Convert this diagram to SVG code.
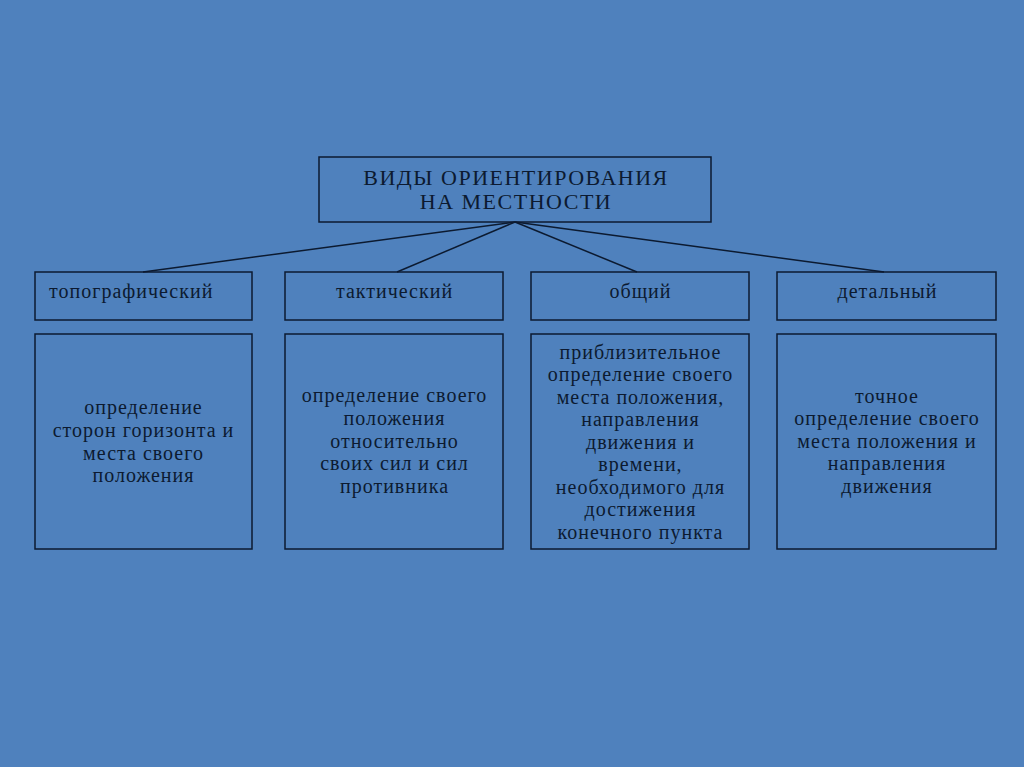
<svg xmlns="http://www.w3.org/2000/svg" width="1024" height="767" viewBox="0 0 1024 767">
<style>
.box{fill:none;stroke:#0c1a30;stroke-width:1.5}
.ln{stroke:#0c1a30;stroke-width:1.5;fill:none}
text{font-family:"Liberation Serif","Times New Roman",serif;fill:#0c1a30}
.t{font-size:20px;letter-spacing:1px;text-anchor:middle}
.h{font-size:22px;letter-spacing:1.5px;text-anchor:middle}
</style>
<rect width="1024" height="767" fill="#4f81bd"/>
<g id="connectors">
<line class="ln" x1="515" y1="222" x2="143" y2="272"/>
<line class="ln" x1="515" y1="222" x2="397" y2="272"/>
<line class="ln" x1="515" y1="222" x2="637" y2="272"/>
<line class="ln" x1="515" y1="222" x2="884" y2="272"/>
</g>
<g id="root">
<rect class="box" x="319" y="157" width="392" height="65"/>
<text class="h" x="516" y="184.5">ВИДЫ ОРИЕНТИРОВАНИЯ</text>
<text class="h" x="516" y="209">НА МЕСТНОСТИ</text>
</g>
<g id="topo">
<rect class="box" x="35" y="272" width="217" height="48"/>
<text class="t" x="49" y="297.5" style="text-anchor:start">топографический</text>
</g>
<g id="takt">
<rect class="box" x="285" y="272" width="218" height="48"/>
<text class="t" x="394.5" y="297.5">тактический</text>
</g>
<g id="obsh">
<rect class="box" x="531" y="272" width="218" height="48"/>
<text class="t" x="640.5" y="297.5">общий</text>
</g>
<g id="det">
<rect class="box" x="777" y="272" width="219" height="48"/>
<text class="t" x="887.5" y="297.5">детальный</text>
</g>
<g id="topo-desc">
<rect class="box" x="35" y="334" width="217" height="215"/>
<text class="t" x="143.5" y="414">определение</text>
<text class="t" x="143.5" y="437">сторон горизонта и</text>
<text class="t" x="143.5" y="459.5">места своего</text>
<text class="t" x="143.5" y="482">положения</text>
</g>
<g id="takt-desc">
<rect class="box" x="285" y="334" width="218" height="215"/>
<text class="t" x="394.5" y="402">определение своего</text>
<text class="t" x="394.5" y="425">положения</text>
<text class="t" x="394.5" y="447.5">относительно</text>
<text class="t" x="394.5" y="470">своих сил и сил</text>
<text class="t" x="394.5" y="493">противника</text>
</g>
<g id="obsh-desc">
<rect class="box" x="531" y="334" width="218" height="215"/>
<text class="t" x="640.5" y="358.5">приблизительное</text>
<text class="t" x="640.5" y="381">определение своего</text>
<text class="t" x="640.5" y="403.5">места положения,</text>
<text class="t" x="640.5" y="426">направления</text>
<text class="t" x="640.5" y="448.5">движения и</text>
<text class="t" x="640.5" y="471">времени,</text>
<text class="t" x="640.5" y="493.5">необходимого для</text>
<text class="t" x="640.5" y="516">достижения</text>
<text class="t" x="640.5" y="538.5">конечного пункта</text>
</g>
<g id="det-desc">
<rect class="box" x="777" y="334" width="219" height="215"/>
<text class="t" x="887" y="402.5">точное</text>
<text class="t" x="887" y="425">определение своего</text>
<text class="t" x="887" y="447.5">места положения и</text>
<text class="t" x="887" y="470">направления</text>
<text class="t" x="887" y="492.5">движения</text>
</g>
</svg>
